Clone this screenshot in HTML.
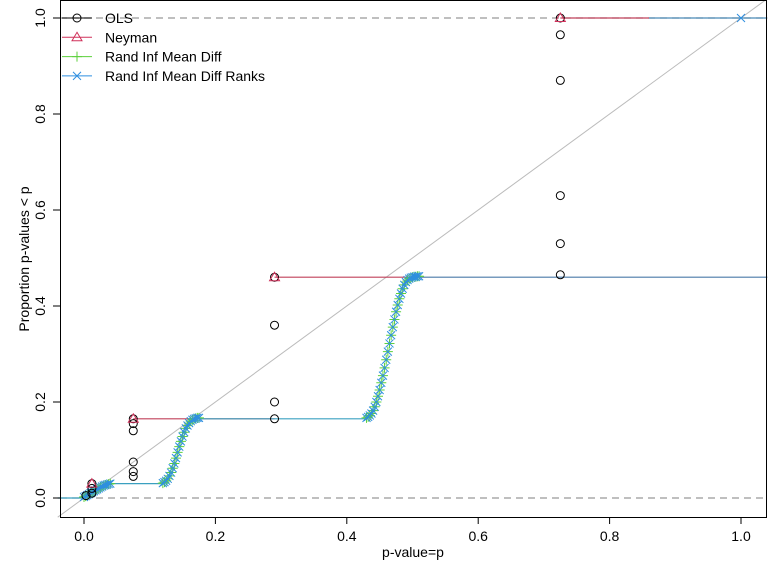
<!DOCTYPE html>
<html><head><meta charset="utf-8"><style>
body{margin:0;background:#fff}
svg{display:block;font-family:"Liberation Sans",Arial,sans-serif}
</style></head><body>
<svg id="chart" width="768" height="576">
<rect x="0" y="0" width="768" height="576" fill="#fff"/>
<g id="plot"></g>
<g id="axes"></g>
<g id="legend"></g>
</svg>
<script>
const xTicks=[0,0.2,0.4,0.6,0.8,1.0];
const yTicks=[0,0.2,0.4,0.6,0.8,1.0];
const tickLabels=["0.0","0.2","0.4","0.6","0.8","1.0"];
const olsX=[0.003,0.012,0.012,0.012,0.075,0.075,0.075,0.075,0.075,0.075,0.29,0.29,0.29,0.29,0.725,0.725,0.725,0.725,0.725,0.725];
const olsY=[0.005,0.01,0.02,0.03,0.045,0.055,0.075,0.14,0.155,0.165,0.165,0.2,0.36,0.46,0.465,0.53,0.63,0.87,0.965,1.0];
const neyX=[0.012,0.075,0.29,0.725];
const neyY=[0.03,0.165,0.46,1.0];
const randX=[0,0.0025,0.005,0.0075,0.01,0.0125,0.015,0.0175,0.02,0.0225,0.025,0.0275,0.03,0.0325,0.035,0.0375,0.04,
0.12,0.1225,0.125,0.1275,0.13,0.1325,0.135,0.1375,0.14,0.1425,0.145,0.1475,0.15,0.1525,0.155,0.1575,0.16,0.1625,0.165,0.1675,0.17,0.1725,0.175,
0.43,0.4325,0.435,0.4375,0.44,0.4425,0.445,0.4475,0.45,0.4525,0.455,0.4575,0.46,0.4625,0.465,0.4675,0.47,0.4725,0.475,0.4775,0.48,0.4825,0.485,0.4875,0.49,0.4925,0.495,0.4975,0.5,0.5025,0.505,0.5075,0.51];
const randY=[0.002,0.004,0.006,0.008,0.010,0.012,0.014,0.016,0.018,0.020,0.022,0.024,0.026,0.027,0.028,0.029,0.030,
0.031,0.033,0.036,0.040,0.046,0.053,0.062,0.072,0.083,0.095,0.107,0.118,0.128,0.137,0.145,0.151,0.156,0.160,0.163,0.165,0.166,0.167,0.167,
0.167,0.169,0.172,0.176,0.182,0.190,0.200,0.212,0.225,0.240,0.255,0.271,0.288,0.305,0.322,0.339,0.356,0.372,0.388,0.402,0.415,0.426,0.436,0.444,0.450,0.454,0.457,0.459,0.460,0.461,0.461,0.462,0.462];
const rankY=randY;
const X=v=>84+657*v, Y=v=>498-480*v;
const NS="http://www.w3.org/2000/svg";
function mk(p,t,a){const e=document.createElementNS(NS,t);for(const k in a)e.setAttribute(k,a[k]);p.appendChild(e);return e;}
const plot=document.getElementById('plot'),axes=document.getElementById('axes'),leg=document.getElementById('legend');
let e;
e=mk(plot,'line',{x1:60,x2:767,y1:Y(0),y2:Y(0),stroke:'#999','stroke-dasharray':'7,5','stroke-width':1.3});


e=mk(plot,'line',{x1:60,x2:767,y1:Y(1),y2:Y(1),stroke:'#999','stroke-dasharray':'7,5','stroke-width':1.3});


e=mk(plot,'line',{x1:X(-0.04),y1:Y(-0.04),x2:767,y2:Y((767-84)/657),stroke:'#bbb','stroke-width':1});


const steps=[[-0.04,0.0,0,'#3aa0c0'],[0.04,0.12,0.03,'#3aa0c0'],[0.075,0.29,0.165,'#c0405a'],[0.175,0.43,0.165,'#3aa0c0'],[0.29,0.51,0.46,'#c0405a'],[0.51,1.04,0.46,'#4a7aa8'],[0.725,0.86,1.0,'#c0405a'],[0.86,1.04,1.0,'#4a8ab8']];
steps.forEach(s=>{e=mk(plot,'line',{x1:X(s[0]),x2:X(s[1]),y1:Y(s[2]),y2:Y(s[2]),stroke:s[3],'stroke-width':1.2});

});
function plus(x,y,c){return mk(plot,'path',{d:`M${x-5},${y}h10M${x},${y-5}v10`,stroke:c,'stroke-width':1,fill:'none'});}
function cross(x,y,c){return mk(plot,'path',{d:`M${x-4},${y-4}l8,8M${x-4},${y+4}l8,-8`,stroke:c,'stroke-width':1,fill:'none'});}
randX.forEach((v,i)=>{e=plus(X(v),Y(randY[i]),'#5cd03c');

});
randX.forEach((v,i)=>{e=cross(X(v),Y(rankY[i]),'#2e8fe0');

});
e=cross(X(1),Y(1),'#2e8fe0');


olsX.forEach((v,i)=>{e=mk(plot,'circle',{cx:X(v),cy:Y(olsY[i]),r:4,fill:'none',stroke:'#000','stroke-width':1});

});
neyX.forEach((v,i)=>{const x=X(v),y=Y(neyY[i]);e=mk(plot,'path',{d:`M${x},${y-5}L${x+5},${y+3.5}L${x-5},${y+3.5}Z`,fill:'none',stroke:'#d0305a','stroke-width':1});

});
e=mk(axes,'rect',{x:60.5,y:0.5,width:706,height:517,fill:'none',stroke:'#000','stroke-width':1});


xTicks.forEach((v,i)=>{e=mk(axes,'line',{x1:X(v),x2:X(v),y1:517,y2:524,stroke:'#000'});


e=mk(axes,'text',{x:X(v),y:541,'text-anchor':'middle','font-size':14});e.textContent=tickLabels[i];

});
yTicks.forEach((v,i)=>{e=mk(axes,'line',{x1:53,x2:60,y1:Y(v),y2:Y(v),stroke:'#000'});


e=mk(axes,'text',{x:0,y:0,'text-anchor':'middle','font-size':14,transform:`translate(45,${Y(v)}) rotate(-90)`});e.textContent=tickLabels[i];

});
e=mk(axes,'text',{x:413,y:557,'text-anchor':'middle','font-size':14});e.textContent='p-value=p';


e=mk(axes,'text',{x:0,y:0,'text-anchor':'middle','font-size':14,transform:'translate(29,259) rotate(-90)'});e.textContent='Proportion p-values < p';


const legNames=['OLS','Neyman','Rand Inf Mean Diff','Rand Inf Mean Diff Ranks'];
const legCols=['#000','#d0305a','#5cd03c','#2e8fe0'];
legNames.forEach((n,i)=>{const y=18+19.3*i;
e=mk(leg,'line',{x1:62,x2:92,y1:y,y2:y,stroke:legCols[i]});


let m;
if(i==0)m=mk(leg,'circle',{cx:77,cy:y,r:4,fill:'none',stroke:'#000'});
else if(i==1)m=mk(leg,'path',{d:`M77,${y-5}L82,${y+3.5}L72,${y+3.5}Z`,fill:'none',stroke:legCols[1]});
else if(i==2)m=mk(leg,'path',{d:`M72,${y}h10M77,${y-5}v10`,stroke:legCols[2],fill:'none'});
else m=mk(leg,'path',{d:`M73,${y-4}l8,8M73,${y+4}l8,-8`,stroke:legCols[3],fill:'none'});


e=mk(leg,'text',{x:105,y:y+5,'font-size':14});e.textContent=n;

});
</script>
</body></html>
